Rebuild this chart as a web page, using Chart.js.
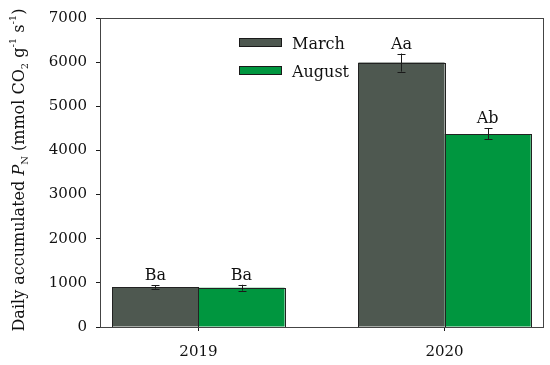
<!DOCTYPE html>
<html><head><meta charset="utf-8">
<script src="https://cdn.jsdelivr.net/npm/chart.js@4/dist/chart.umd.min.js"></script>
<style>html,body{margin:0;padding:0;background:#fff;}canvas{display:block;}</style>
</head><body>
<canvas id="c" width="550" height="365"></canvas>
<script>
const years = [2019, 2020];
const seriesNames = ['March', 'August'];
const march = [905, 5990];
const august = [890, 4375];
const marchErr = [37, 205];
const augustErr = [67, 123];
const marchLetters = ['Ba', 'Aa'];
const augustLetters = ['Ba', 'Ab'];
const yTicks = [0, 1000, 2000, 3000, 4000, 5000, 6000, 7000];

const FONT = '"DejaVu Serif", serif';
const INK = '#1a1a1a';
const errs = [marchErr, augustErr];
const letters = [marchLetters, augustLetters];

const overlay = {
  id: 'overlay',
  afterDatasetsDraw(chart) {
    const ctx = chart.ctx, y = chart.scales.y;
    ctx.save();
    ctx.lineWidth = 1;
    // crisp bar outlines
    ctx.strokeStyle = '#222';
    chart.data.datasets.forEach((ds, i) => {
      chart.getDatasetMeta(i).data.forEach(bar => {
        const p = bar.getProps(['x', 'y', 'base', 'width'], true);
        const l = Math.round(p.x - p.width / 2) + 0.5, r = Math.round(p.x + p.width / 2) + 0.5;
        const t = Math.round(p.y) + 0.5, b = Math.round(p.base) + 0.5;
        ctx.strokeRect(l, t, r - l, b - t);
      });
    });
    ctx.strokeStyle = INK;
    ctx.fillStyle = '#111';
    ctx.font = '16px ' + FONT;
    ctx.textAlign = 'center'; ctx.textBaseline = 'alphabetic';
    chart.data.datasets.forEach((ds, i) => {
      const meta = chart.getDatasetMeta(i);
      meta.data.forEach((bar, j) => {
        const v = ds.data[j].y, e = errs[i][j];
        const x = Math.round(bar.x) + 0.5;
        const yt = y.getPixelForValue(v + e), yb = y.getPixelForValue(v - e);
        ctx.beginPath();
        ctx.moveTo(x, yt); ctx.lineTo(x, yb);
        ctx.moveTo(x - 4, Math.round(yt) + 0.5); ctx.lineTo(x + 4, Math.round(yt) + 0.5);
        ctx.moveTo(x - 4, Math.round(yb) + 0.5); ctx.lineTo(x + 4, Math.round(yb) + 0.5);
        ctx.stroke();
        ctx.fillText(letters[i][j], bar.x, yt - 5);
      });
    });
    // legend
    ctx.textAlign = 'left';
    ctx.font = '16px ' + FONT;
    chart.data.datasets.forEach((ds, i) => {
      const by = 38 + i * 28;
      ctx.fillStyle = ds.backgroundColor;
      ctx.fillRect(239.5, by + 0.5, 42, 8);
      ctx.strokeStyle = INK;
      ctx.strokeRect(239.5, by + 0.5, 42, 8);
      ctx.fillStyle = '#111';
      ctx.fillText(ds.label, 292, by + 11);
    });
    ctx.restore();
  },
  afterDraw(chart) {
    const ctx = chart.ctx, a = chart.chartArea;
    ctx.save();
    ctx.strokeStyle = '#444'; ctx.lineWidth = 1;
    ctx.strokeRect(Math.round(a.left) + 0.5, Math.round(a.top) + 0.5, Math.round(a.right - a.left), Math.round(a.bottom - a.top));
    // y title with sub/superscripts
    ctx.translate(24, 170);
    ctx.rotate(-Math.PI / 2);
    ctx.fillStyle = '#111';
    const base = 16, small = 10;
    const parts = [
      ['Daily accumulated ', base, 0, ''],
      ['P', base, 0, 'italic '],
      ['N', small, 4, ''],
      [' (mmol CO', base, 0, ''],
      ['2', small, 4, ''],
      [' g', base, 0, ''],
      ['-1', small, -8, ''],
      [' s', base, 0, ''],
      ['-1', small, -8, ''],
      [')', base, 0, '']
    ];
    let total = 0;
    parts.forEach(p => { ctx.font = p[3] + p[1] + 'px ' + FONT; total += ctx.measureText(p[0]).width; });
    let x = -total / 2;
    ctx.textAlign = 'left'; ctx.textBaseline = 'alphabetic';
    parts.forEach(p => { ctx.font = p[3] + p[1] + 'px ' + FONT; ctx.fillText(p[0], x, p[2]); x += ctx.measureText(p[0]).width; });
    ctx.restore();
  }
};

new Chart(document.getElementById('c'), {
  type: 'bar',
  data: {
    datasets: [
      { label: seriesNames[0], data: years.map((yr, i) => ({ x: yr, y: march[i] })), backgroundColor: '#4e5850', borderWidth: 0 },
      { label: seriesNames[1], data: years.map((yr, i) => ({ x: yr, y: august[i] })), backgroundColor: '#00963f', borderWidth: 0 }
    ]
  },
  options: {
    responsive: false, animation: false,
    devicePixelRatio: 1,
    categoryPercentage: 0.7, barPercentage: 1.0,
    layout: { padding: { left: 0, right: 7, top: 14, bottom: 0 } },
    plugins: { legend: { display: false }, tooltip: { enabled: false } },
    scales: {
      x: {
        type: 'linear', min: 2018.6, max: 2020.4, offset: false,
        afterBuildTicks: s => { s.ticks = years.map(v => ({ value: v })); },
        afterFit: s => { s.height = 38; },
        grid: { drawOnChartArea: false, tickLength: 4, color: INK, offset: false },
        border: { color: '#444' },
        ticks: { padding: 12, color: '#111', font: { family: FONT, size: 15 }, callback: v => String(v) }
      },
      y: {
        min: 0, max: 7000,
        afterBuildTicks: s => { s.ticks = yTicks.map(v => ({ value: v })); },
        afterFit: s => { s.width = 100; },
        grid: { drawOnChartArea: false, tickLength: 4, color: INK },
        border: { color: '#444' },
        ticks: { padding: 9, color: '#111', font: { family: FONT, size: 15 }, callback: v => String(v) }
      }
    }
  },
  plugins: [overlay]
});
</script>
</body></html>
